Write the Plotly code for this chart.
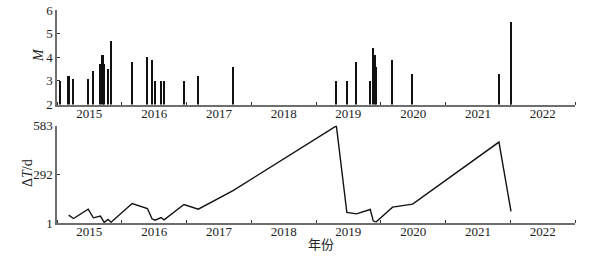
import plotly.graph_objects as go

# Earthquake dates (events) and magnitudes
event_dates = [
    "2015-01-18", "2015-03-08", "2015-04-04", "2015-06-26", "2015-07-25",
    "2015-09-03", "2015-09-16", "2015-09-24", "2015-10-16", "2015-11-02",
    "2016-02-29", "2016-05-25", "2016-06-20", "2016-07-07", "2016-08-10",
    "2016-08-27", "2016-12-17", "2017-03-08", "2017-09-20", "2019-04-26",
    "2019-06-24", "2019-08-17", "2019-11-03", "2019-11-20", "2019-11-29",
    "2019-12-07", "2020-03-08", "2020-06-29", "2021-10-29", "2022-01-05",
]
magnitudes = [
    3.0, 3.2, 3.1, 3.1, 3.4,
    3.7, 4.1, 3.7, 3.5, 4.7,
    3.8, 4.0, 3.9, 3.0, 3.0,
    3.0, 3.0, 3.2, 3.6, 3.0,
    3.0, 3.8, 3.0, 4.4, 4.1,
    3.6, 3.9, 3.3, 3.3, 5.5,
]
# Interval (days) since the previous event, plotted from the 2nd event on
dt_dates = event_dates[1:]
dt_days = [
    48, 28, 84, 32, 42,
    13, 5, 22, 6, 118,
    88, 26, 18, 34, 20,
    112, 84, 195, 583, 64,
    56, 82, 14, 9, 8,
    96, 114, 486, 70,
]
m_ticks = [2, 3, 4, 5, 6]
dt_ticks = [1, 292, 583]

SERIF = "Liberation Serif, Times New Roman, serif"
AXIS_COL = "#6e6e6e"
TXT = "#222222"

W, H = 602, 256
ML, MR, MT, MB = 57, 27, 10, 33
PW, PH = W - ML - MR, H - MT - MB


def px2paper(xp, yp):
    return (xp - ML) / PW, (H - MB - yp) / PH


fig = go.Figure()
fig.add_trace(go.Bar(
    x=event_dates, y=magnitudes, xaxis="x", yaxis="y",
    marker=dict(color="#111111", line=dict(width=0)),
    width=9 * 86400000, showlegend=False,
))
fig.add_trace(go.Scatter(
    x=dt_dates, y=dt_days, xaxis="x2", yaxis="y2", mode="lines",
    line=dict(color="#111111", width=1.4), showlegend=False,
))

xcommon = dict(
    type="date", range=["2015-01-01", "2023-01-01"],
    tick0="2015-01-01", dtick="M12", tickformat="%Y", ticklabelmode="period",
    ticks="inside", ticklen=3, tickcolor="#333333",
    ticklabelstandoff=-4,
    showline=True, linecolor=AXIS_COL, linewidth=1.5,
    showgrid=False, zeroline=False, automargin=False,
    tickfont=dict(family=SERIF, size=13, color=TXT),
)
ycommon = dict(
    ticks="inside", ticklen=3, tickcolor="#333333",
    showline=True, linecolor=AXIS_COL, linewidth=1.5,
    showgrid=False, zeroline=False, automargin=False,
    tickfont=dict(family=SERIF, size=13, color=TXT),
)

annotations = []
for text, (xp, yp), ang, fam, size in [
    ("<i>M</i>", (38, 55), -90, SERIF, 14),
    ("Δ<i>T</i>/d", (27, 173), -90, SERIF, 14),
    ("年份", (321, 243), 0, "Noto Sans CJK SC", 13),
]:
    ax, ay = px2paper(xp, yp)
    annotations.append(dict(
        text=text, x=ax, y=ay, xref="paper", yref="paper",
        xanchor="center", yanchor="middle", showarrow=False, textangle=ang,
        font=dict(family=fam, size=size, color=TXT),
    ))

fig.update_layout(
    width=W, height=H,
    margin=dict(l=ML, r=MR, t=MT, b=MB, autoexpand=False),
    paper_bgcolor="white", plot_bgcolor="white",
    bargap=0,
    xaxis=dict(**xcommon, domain=[0, 1], anchor="y"),
    yaxis=dict(**ycommon, domain=[0.556, 1.0], range=[2, 6],
               tickvals=m_ticks, anchor="x"),
    xaxis2=dict(**xcommon, domain=[0, 1], anchor="y2"),
    yaxis2=dict(**ycommon, domain=[0, 0.456], range=[1, 583],
                tickvals=dt_ticks, anchor="x2"),
    annotations=annotations,
)

fig.write_html(
    "out.html",
    config={"displayModeBar": False},
    post_script="document.body.style.margin='0';document.body.style.overflow='hidden';",
)
